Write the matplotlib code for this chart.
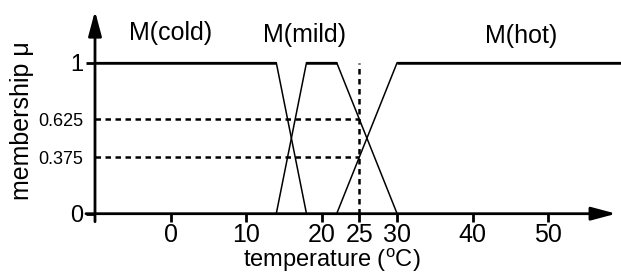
import matplotlib
matplotlib.use("Agg")
import matplotlib.pyplot as plt

plt.rcParams['font.family'] = ['Liberation Sans', 'DejaVu Sans']
plt.rcParams['mathtext.fontset'] = 'custom'
plt.rcParams['mathtext.rm'] = 'Liberation Sans'

# membership functions (breakpoints)
cold_x = [-10, 14, 18]
cold_y = [1, 1, 0]
mild_x = [14, 18, 22, 30]
mild_y = [0, 1, 1, 0]
hot_x = [22, 30, 59.64]
hot_y = [0, 1, 1]

t_obs = 25
mu_obs = [0.625, 0.375]

xticks = [0, 10, 20, 25, 30, 40, 50]
yticks = [0, 0.375, 0.625, 1]
ytick_labels = ['0', '0.375', '0.625', '1']

xmin, xmax = -10, 59.64
ymin, ymax = 0, 1.342

fig = plt.figure(figsize=(6.21, 2.74), dpi=100)
ax = fig.add_axes([95/621, (274-213.7)/274, (621-95)/621, (213.7-11)/274])
ax.set_xlim(xmin, xmax)
ax.set_ylim(ymin, ymax)
for s in ax.spines.values():
    s.set_visible(False)

# slopes thin, plateaus thicker
for xs, ys in [(cold_x, cold_y), (mild_x, mild_y), (hot_x, hot_y)]:
    ax.plot(xs, ys, color='black', lw=1.1, clip_on=False)
    for i in range(len(xs) - 1):
        if ys[i] == 1 and ys[i+1] == 1:
            ax.plot(xs[i:i+2], ys[i:i+2], color='black', lw=1.8,
                    solid_capstyle='butt', clip_on=False)

# dashed guide lines
ax.plot([t_obs, t_obs], [0, 1], color='black', lw=1.8, ls=(0, (2.2, 1.8)))
for m in mu_obs:
    ax.plot([xmin, t_obs], [m, m], color='black', lw=1.8, ls=(0, (2.2, 1.8)))

# axes as arrows
arrow = dict(arrowstyle='-|>,head_length=1.5,head_width=0.4', lw=2,
             color='black', mutation_scale=10, shrinkA=0, shrinkB=0)
ax.annotate('', xy=(59.0, 0), xytext=(-11.2, 0), arrowprops=arrow,
            annotation_clip=False)
ax.annotate('', xy=(xmin, 1.342), xytext=(xmin, -0.053), arrowprops=arrow,
            annotation_clip=False)

ax.set_xticks(xticks)
ax.set_xticklabels([str(v) for v in xticks])
ax.tick_params(axis='x', direction='out', length=6, width=2, pad=0.5,
               labelsize=18)
ax.set_yticks(yticks)
ax.set_yticklabels(ytick_labels)
ax.tick_params(axis='y', direction='out', length=6.5, width=2, pad=2,
               labelsize=17)
for i, t in enumerate(ax.yaxis.get_major_ticks()):
    if yticks[i] in mu_obs:
        t.tick1line.set_visible(False)
        t.label1.set_fontsize(13)

ax.text(0, 1.15, 'M(cold)', ha='center', va='baseline', fontsize=18)
ax.text(17.8, 1.138, 'M(mild)', ha='center', va='baseline', fontsize=18)
ax.text(46.4, 1.13, 'M(hot)', ha='center', va='baseline', fontsize=18)

fig.text(332/621, 1 - 267/274, r'temperature ($^{\mathrm{o}}$C)', ha='center',
         va='baseline', fontsize=17)
fig.text(22/621, 1 - 121/274, 'membership \u03bc', rotation=90, ha='center',
         va='center', fontsize=18)

fig.savefig('out.png', dpi=100)
